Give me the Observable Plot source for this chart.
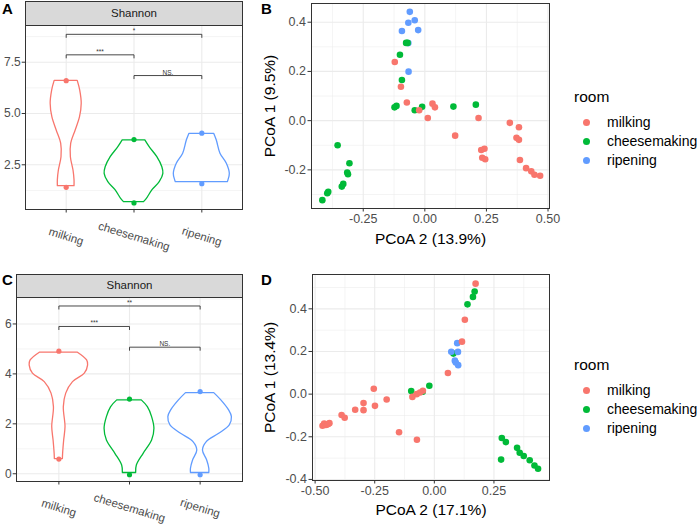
<!DOCTYPE html>
<html><head><meta charset="utf-8">
<script src="https://cdn.jsdelivr.net/npm/d3@7"></script>
<script src="https://cdn.jsdelivr.net/npm/@observablehq/plot@0.6"></script>
<style>
body{margin:0;background:#fff;font-family:"Liberation Sans",Arial,sans-serif;}
#root{position:relative;width:700px;height:525px;overflow:hidden;background:#fff;}
.strip{position:absolute;background:#d9d9d9;border:1px solid #333;box-sizing:border-box;font-size:11.5px;color:#1a1a1a;text-align:center;}
.tag{position:absolute;font-weight:bold;font-size:15px;line-height:15px;color:#000;}
.lg{position:absolute;white-space:nowrap;color:#000;}
</style></head><body><div id="root"></div>
<script>
// ---------- shared categories ----------
const rooms = ["milking", "cheesemaking", "ripening"];
const roomColors = ["#F8766D", "#00BA38", "#619CFF"];

// ---------- Panel A: violin outlines (Shannon value, half-width in category units) ----------
const aMilkingV = [6.59, 6.12, 5.47, 4.82, 4.17, 3.53, 2.87, 2.22, 1.74, 1.46];
const aMilkingW = [0.17, 0.207, 0.229, 0.204, 0.14, 0.074, 0.069, 0.108, 0.123, 0.123];
const aCheeseV = [3.69, 3.36, 2.87, 2.38, 2.06, 1.65, 1.25, 0.84, 0.68];
const aCheeseW = [0.167, 0.231, 0.344, 0.418, 0.433, 0.379, 0.27, 0.19, 0.148];
const aRipenV = [4.01, 3.68, 3.04, 2.55, 2.06, 1.74, 1.65];
const aRipenW = [0.182, 0.221, 0.275, 0.369, 0.413, 0.393, 0.383];
const aDotRoom = ["milking", "milking", "cheesemaking", "cheesemaking", "ripening", "ripening"];
const aDotV = [6.6, 1.4, 3.73, 0.64, 4.04, 1.58];
const aBracketFrom = ["milking", "milking", "cheesemaking"];
const aBracketTo = ["ripening", "cheesemaking", "ripening"];
const aBracketY = [8.86, 7.86, 6.85];
const aBracketLabel = ["*", "***", "NS."];
const aYTicks = [2.5, 5.0, 7.5];
const aYMinor = [1.25, 3.75, 6.25, 8.75];

// ---------- Panel C ----------
const cMilkingV = [4.85, 4.54, 4.34, 4.01, 3.67, 3.21, 2.67, 1.87, 1.33, 0.80, 0.59];
const cMilkingW = [0.27, 0.40, 0.414, 0.367, 0.2, 0.104, 0.07, 0.094, 0.075, 0.06, 0.057];
const cCheeseV = [2.94, 2.67, 2.27, 1.80, 1.33, 0.80, 0.33, 0.03];
const cCheeseW = [0.174, 0.26, 0.32, 0.353, 0.32, 0.2, 0.104, 0.094];
const cRipenV = [3.23, 2.94, 2.54, 2.27, 1.94, 1.60, 1.27, 0.93, 0.53, 0.20, 0.03];
const cRipenW = [0.2, 0.3, 0.41, 0.45, 0.42, 0.27, 0.094, 0.04, 0.1, 0.13, 0.13];
const cDotRoom = ["milking", "milking", "cheesemaking", "cheesemaking", "ripening", "ripening"];
const cDotV = [4.91, 0.59, 2.99, -0.04, 3.29, -0.04];
const cBracketFrom = ["milking", "milking", "cheesemaking"];
const cBracketTo = ["ripening", "cheesemaking", "ripening"];
const cBracketY = [6.72, 5.90, 5.07];
const cBracketLabel = ["**", "***", "NS."];
const cYTicks = [0, 2, 4, 6];
const cYMinor = [1, 3, 5, 7];

// ---------- Panel B: PCoA ----------
const bMilkingX = [-0.122, -0.097, -0.073, -0.023, 0.031, 0.041, 0.012, 0.123, 0.218, 0.229, 0.242, 0.233, 0.245, 0.345, 0.382, 0.372, 0.382, 0.386, 0.411, 0.432, 0.445, 0.468];
const bMilkingY = [0.238, 0.138, 0.074, 0.042, 0.069, 0.054, 0.011, -0.061, 0.011, -0.119, -0.114, -0.151, -0.157, -0.009, -0.027, -0.070, -0.078, -0.160, -0.193, -0.206, -0.220, -0.224];
const bCheeseX = [-0.076, -0.070, -0.101, -0.093, -0.123, -0.115, -0.041, -0.011, 0.116, 0.207, -0.354, -0.306, -0.315, -0.312, -0.331, -0.337, -0.392, -0.396, -0.416];
const bCheeseY = [0.316, 0.316, 0.268, 0.165, 0.054, 0.060, 0.042, 0.056, 0.057, 0.065, -0.100, -0.173, -0.211, -0.218, -0.257, -0.268, -0.289, -0.295, -0.323];
const bRipenX = [-0.061, -0.041, -0.067, -0.093, -0.027, -0.067, -0.066];
const bRipenY = [0.442, 0.408, 0.398, 0.364, 0.368, 0.315, 0.199];
const bXTicks = [-0.25, 0, 0.25, 0.5];
const bXMinor = [-0.375, -0.125, 0.125, 0.375];
const bYTicks = [-0.2, 0, 0.2, 0.4];
const bYMinor = [-0.3, -0.1, 0.1, 0.3];

// ---------- Panel D: PCoA ----------
const dMilkingX = [0.173, 0.128, 0.116, 0.057, -0.254, -0.200, -0.249, -0.297, -0.297, -0.332, -0.389, -0.376, -0.469, -0.462, -0.455, -0.450, -0.445, -0.440, -0.148, -0.073, -0.092, -0.074, -0.060, -0.048];
const dMilkingY = [0.518, 0.349, 0.246, 0.099, 0.025, -0.025, -0.055, -0.042, -0.075, -0.073, -0.098, -0.111, -0.148, -0.138, -0.145, -0.142, -0.140, -0.136, -0.179, -0.214, -0.013, 0.000, 0.008, 0.016];
const dCheeseX = [0.169, 0.162, 0.139, 0.080, -0.097, -0.049, -0.021, 0.283, 0.300, 0.280, 0.347, 0.358, 0.375, 0.400, 0.420, 0.435];
const dCheeseY = [0.481, 0.456, 0.421, 0.190, 0.015, 0.011, 0.039, -0.206, -0.225, -0.307, -0.252, -0.275, -0.290, -0.310, -0.335, -0.350];
const dRipenX = [0.096, 0.071, 0.099, 0.086, 0.090, 0.100];
const dRipenY = [0.239, 0.199, 0.198, 0.157, 0.148, 0.136];
const dXTicks = [-0.5, -0.25, 0, 0.25];
const dXMinor = [-0.375, -0.125, 0.125, 0.375];
const dYTicks = [-0.4, -0.2, 0, 0.2, 0.4];
const dYMinor = [-0.3, -0.1, 0.1, 0.3, 0.5];

const root = document.getElementById("root");
const FONT = "'Liberation Sans', Arial, sans-serif";
const GRID = "#ebebeb", DARK = "#333333", TXT = "#4d4d4d";

function place(node, left, top) {
  node.style.position = "absolute";
  node.style.left = left + "px";
  node.style.top = top + "px";
  root.appendChild(node);
}
function addDiv(cls, text, css) {
  const d = document.createElement("div");
  d.className = cls; d.textContent = text; d.style.cssText += css;
  root.appendChild(d); return d;
}

function violinPanel(o) {
  const pos = new Map(rooms.map((c, i) => [c, i + 1]));
  const rows = [];
  o.profiles.forEach(p => p.v.forEach((v, i) => rows.push({room: p.room, v, w: p.w[i]})));
  const dots = o.dotRoom.map((r, i) => ({room: r, v: o.dotV[i]}));
  const brackets = o.bFrom.map((f, i) => ({from: f, to: o.bTo[i], y: o.bY[i], label: o.bLabel[i]}));
  const span = o.yDomain[1] - o.yDomain[0];
  const tip = span * 0.019;
  const tips = brackets.flatMap(b => [{x: pos.get(b.from), y: b.y}, {x: pos.get(b.to), y: b.y}]);
  const svg = Plot.plot({
    width: o.width, height: o.height,
    marginLeft: o.mL, marginRight: o.mR, marginTop: o.mT, marginBottom: o.mB,
    style: {fontFamily: FONT, background: "none", overflow: "visible"},
    x: {domain: [0.4, 3.6]},
    y: {domain: o.yDomain, label: null},
    color: {domain: rooms, range: roomColors},
    marks: [
      Plot.gridY(o.yMinor, {stroke: GRID, strokeOpacity: 1, strokeWidth: 0.55}),
      Plot.gridY(o.yTicks, {stroke: GRID, strokeOpacity: 1, strokeWidth: 1.1}),
      Plot.gridX([1, 2, 3], {stroke: GRID, strokeOpacity: 1, strokeWidth: 1.1}),
      Plot.areaX(rows, {y: "v", x1: d => pos.get(d.room) - d.w, x2: d => pos.get(d.room) + d.w,
        z: "room", fill: "white", stroke: "room", strokeWidth: 1.3, curve: "catmull-rom"}),
      Plot.dot(dots, {x: d => pos.get(d.room), y: "v", fill: "room", r: 2.6}),
      Plot.link(brackets, {x1: d => pos.get(d.from), x2: d => pos.get(d.to), y1: "y", y2: "y", stroke: DARK, strokeWidth: 0.9}),
      Plot.link(tips, {x1: "x", x2: "x", y1: "y", y2: d => d.y - tip, stroke: DARK, strokeWidth: 0.9}),
      Plot.text(brackets, {x: d => (pos.get(d.from) + pos.get(d.to)) / 2, y: "y", text: "label",
        fontSize: 6.5, fill: DARK, lineAnchor: "bottom", dy: -1}),
      Plot.frame({stroke: DARK, strokeWidth: 1}),
      Plot.axisY(o.yTicks, {tickFormat: o.yFmt, tickSize: 3.3, tickPadding: 1.5, fontSize: 12,
        stroke: DARK, fill: TXT, label: null}),
      Plot.axisX([1, 2, 3], {tickFormat: () => "", tickSize: 3.5, stroke: DARK, label: null}),
      Plot.text(rooms, {x: (d, i) => i + 1, text: d => d, frameAnchor: "bottom", dy: o.labelDy,
        textAnchor: "middle", lineAnchor: "middle", rotate: 17, fontSize: 11.5, fill: TXT})
    ]
  });
  place(svg, o.left, o.top);
}

function scatterPanel(o) {
  const rows = [];
  o.order.forEach(k => {
    const s = o.series[k];
    s[0].forEach((x, i) => rows.push({room: k, x, y: s[1][i]}));
  });
  const svg = Plot.plot({
    width: o.width, height: o.height,
    marginLeft: o.mL, marginRight: o.mR, marginTop: o.mT, marginBottom: o.mB,
    style: {fontFamily: FONT, background: "none", overflow: "visible"},
    x: {domain: o.xDomain, label: null},
    y: {domain: o.yDomain, label: null},
    color: {domain: rooms, range: roomColors},
    marks: [
      Plot.gridX(o.xMinor, {stroke: GRID, strokeOpacity: 1, strokeWidth: 0.55}),
      Plot.gridY(o.yMinor, {stroke: GRID, strokeOpacity: 1, strokeWidth: 0.55}),
      Plot.gridX(o.xTicks, {stroke: GRID, strokeOpacity: 1, strokeWidth: 1.1}),
      Plot.gridY(o.yTicks, {stroke: GRID, strokeOpacity: 1, strokeWidth: 1.1}),
      Plot.dot(rows, {x: "x", y: "y", fill: "room", r: 3.3}),
      Plot.frame({stroke: DARK, strokeWidth: 1}),
      Plot.axisX(o.xTicks, {tickFormat: d => d.toFixed(2), tickSize: 3.5, tickPadding: 2.5, fontSize: 12.5,
        stroke: DARK, fill: TXT, label: null}),
      Plot.axisY(o.yTicks, {tickFormat: d => d.toFixed(1), tickSize: 3.5, tickPadding: 2, fontSize: 12.5,
        stroke: DARK, fill: TXT, label: null}),
      Plot.text([o.xTitle], {frameAnchor: "bottom", text: d => d, dy: o.xTitleDy, fontSize: 15.5, fill: "#000",
        textAnchor: "middle", lineAnchor: "middle"}),
      Plot.text([o.yTitle], {frameAnchor: "left", text: d => d, dx: o.yTitleDx, rotate: -90, fontSize: 15.5, fill: "#000",
        textAnchor: "middle", lineAnchor: "middle"})
    ]
  });
  place(svg, o.left, o.top);
}

function legend(titleY, firstY, step) {
  addDiv("lg", "room", `left:574px;top:${titleY - 10}px;font-size:15.5px;line-height:20px;`);
  rooms.forEach((r, i) => {
    const cy = firstY + step * i;
    const dot = document.createElement("div");
    dot.style.cssText = `position:absolute;left:${586.7 - 3.5}px;top:${cy - 3.5}px;width:7px;height:7px;border-radius:50%;background:${roomColors[i]};`;
    root.appendChild(dot);
    addDiv("lg", r, `left:607px;top:${cy - 10}px;font-size:14px;line-height:20px;`);
  });
}

// Panel A
violinPanel({left: 0, top: 0, width: 245, height: 255, mL: 25, mR: 3, mT: 25, mB: 46,
  yDomain: [0.32, 9.29], yTicks: aYTicks, yMinor: aYMinor, yFmt: d => d.toFixed(1), labelDy: 27,
  profiles: [{room: "milking", v: aMilkingV, w: aMilkingW}, {room: "cheesemaking", v: aCheeseV, w: aCheeseW}, {room: "ripening", v: aRipenV, w: aRipenW}],
  dotRoom: aDotRoom, dotV: aDotV, bFrom: aBracketFrom, bTo: aBracketTo, bY: aBracketY, bLabel: aBracketLabel});
addDiv("strip", "Shannon", "left:25px;top:1px;width:218px;height:25px;line-height:22px;");

// Panel C
violinPanel({left: 0, top: 262, width: 245, height: 263, mL: 16, mR: 3, mT: 35, mB: 44,
  yDomain: [-0.31, 7.06], yTicks: cYTicks, yMinor: cYMinor, yFmt: d => String(d), labelDy: 26.5,
  profiles: [{room: "milking", v: cMilkingV, w: cMilkingW}, {room: "cheesemaking", v: cCheeseV, w: cCheeseW}, {room: "ripening", v: cRipenV, w: cRipenW}],
  dotRoom: cDotRoom, dotV: cDotV, bFrom: cBracketFrom, bTo: cBracketTo, bY: cBracketY, bLabel: cBracketLabel});
addDiv("strip", "Shannon", "left:16px;top:274px;width:227px;height:24px;line-height:21px;");

// Panel B
scatterPanel({left: 230, top: 0, width: 330, height: 250, mL: 81, mR: 11, mT: 3, mB: 42,
  xDomain: [-0.46, 0.506], yDomain: [-0.357, 0.476], xTicks: bXTicks, xMinor: bXMinor, yTicks: bYTicks, yMinor: bYMinor,
  xTitle: "PCoA 2 (13.9%)", yTitle: "PCoA 1 (9.5%)", xTitleDy: 31, yTitleDx: -41,
  order: ["ripening", "cheesemaking", "milking"],
  series: {milking: [bMilkingX, bMilkingY], cheesemaking: [bCheeseX, bCheeseY], ripening: [bRipenX, bRipenY]}});

// Panel D
scatterPanel({left: 230, top: 262, width: 330, height: 263, mL: 82, mR: 11, mT: 12, mB: 45,
  xDomain: [-0.511, 0.483], yDomain: [-0.405, 0.561], xTicks: dXTicks, xMinor: dXMinor, yTicks: dYTicks, yMinor: dYMinor,
  xTitle: "PCoA 2 (17.1%)", yTitle: "PCoA 1 (13.4%)", xTitleDy: 30, yTitleDx: -42,
  order: ["cheesemaking", "ripening", "milking"],
  series: {milking: [dMilkingX, dMilkingY], cheesemaking: [dCheeseX, dCheeseY], ripening: [dRipenX, dRipenY]}});

legend(97, 122, 19);
legend(365, 390, 19);

addDiv("tag", "A", "left:2px;top:1px;");
addDiv("tag", "B", "left:261px;top:1px;");
addDiv("tag", "C", "left:2px;top:272px;");
addDiv("tag", "D", "left:261px;top:272px;");
</script></body></html>
